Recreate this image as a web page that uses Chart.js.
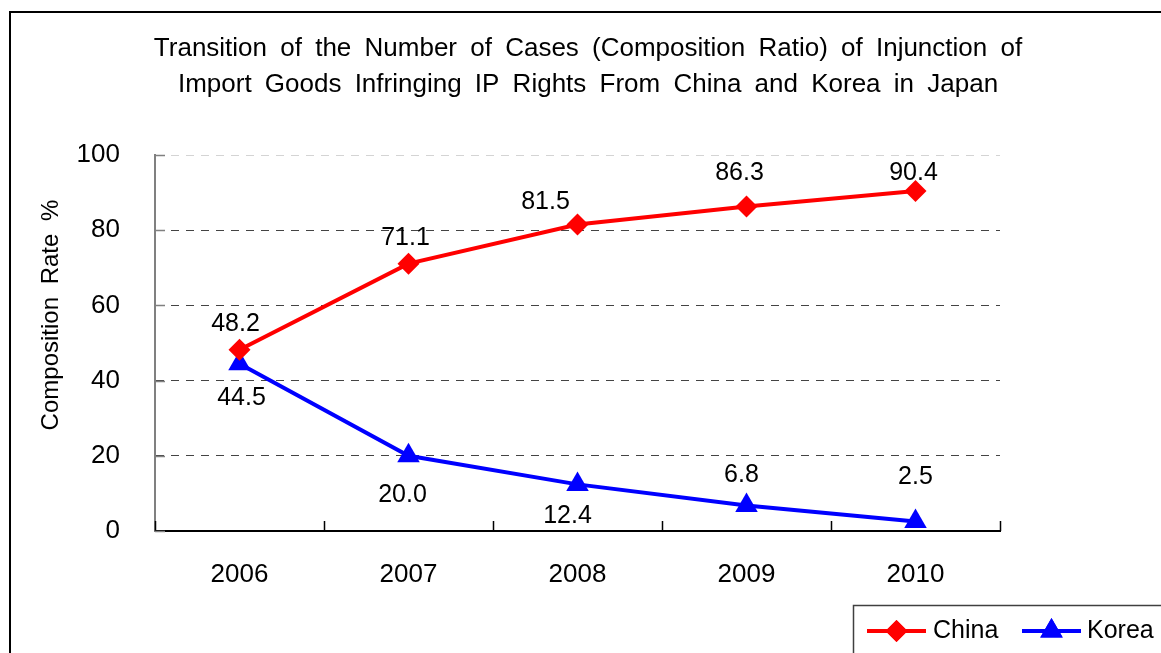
<!DOCTYPE html>
<html lang="en">

<head>
    <meta charset="utf-8">
    <title>Injunction of Import Goods - China and Korea</title>
    <script src="https://cdn.jsdelivr.net/npm/chart.js"></script>
    <style>
        body { margin: 0; overflow: hidden; background: #fff; }
        #frame {
            position: absolute; left: 9px; top: 11px;
            width: 1300px; height: 800px;
            border: 2px solid #000; pointer-events: none;
        }
    </style>
</head>

<body>
    <canvas id="myLineChart" width="1161" height="653"></canvas>
    <div id="frame"></div>

    <script>
        // data
        const years = ["2006", "2007", "2008", "2009", "2010"];
        const chinaValues = [48.2, 71.1, 81.5, 86.3, 90.4];
        const koreaValues = [44.5, 20.0, 12.4, 6.8, 2.5];
        const yTicks = [0, 20, 40, 60, 80, 100];

        // where each value label sits relative to its point (px)
        const chinaLabelOffsets = [[-4, -26], [-3, -26], [-32, -22], [-7, -33], [-2, -18]];
        const koreaLabelOffsets = [[2, 34], [-6, 39], [-10, 32], [-5, -30], [0, -44]];

        const FONT = "'Liberation Sans', Arial, sans-serif";

        // the original font has wide spaces
        const wideSpaces = {
            id: 'wideSpaces',
            beforeDraw(chart) {
                if ('wordSpacing' in chart.ctx) chart.ctx.wordSpacing = "6px";
            }
        };

        // value labels next to the points
        const valueLabels = {
            id: 'valueLabels',
            afterDatasetsDraw(chart) {
                const ctx = chart.ctx;
                ctx.save();
                ctx.font = "25px " + FONT;
                ctx.fillStyle = "#000";
                ctx.textAlign = "center";
                ctx.textBaseline = "middle";
                chart.data.datasets.forEach((ds, i) => {
                    const meta = chart.getDatasetMeta(i);
                    meta.data.forEach((pt, j) => {
                        const off = ds.labelOffsets[j];
                        ctx.fillText(ds.data[j].toFixed(1), pt.x + off[0], pt.y + off[1]);
                    });
                });
                ctx.restore();
            }
        };

        // inward tick marks, y axis title, boxed legend
        const extras = {
            id: 'extras',
            afterDraw(chart) {
                const ctx = chart.ctx;
                const area = chart.chartArea;
                const x = chart.scales.x;
                const y = chart.scales.y;
                ctx.save();

                // x ticks between categories
                ctx.strokeStyle = "#000";
                ctx.lineWidth = 1.5;
                ctx.beginPath();
                for (let i = 0; i <= years.length; i++) {
                    const px = Math.round(x.getPixelForValue(i - 0.5)) + 0.5;
                    ctx.moveTo(px, area.bottom);
                    ctx.lineTo(px, area.bottom - 10);
                }
                ctx.stroke();

                // y ticks
                ctx.strokeStyle = "#808080";
                ctx.beginPath();
                yTicks.forEach(v => {
                    const py = Math.round(y.getPixelForValue(v)) + 0.5;
                    ctx.moveTo(area.left, py);
                    ctx.lineTo(area.left + 10, py);
                });
                ctx.stroke();

                // y axis title
                ctx.save();
                ctx.translate(51, 315);
                ctx.rotate(-Math.PI / 2);
                ctx.font = "24px " + FONT;
                ctx.fillStyle = "#000";
                ctx.textAlign = "center";
                ctx.textBaseline = "middle";
                ctx.fillText("Composition Rate %", 0, 0);
                ctx.restore();

                // legend box
                ctx.strokeStyle = "#404040";
                ctx.lineWidth = 1.5;
                ctx.strokeRect(853.5, 605.5, 400, 100);
                const items = [[867, 926, 933], [1022, 1081, 1087]];
                chart.data.datasets.forEach((ds, i) => {
                    const [x0, x1, tx] = items[i];
                    const ly = 631;
                    ctx.strokeStyle = ds.borderColor;
                    ctx.lineWidth = ds.borderWidth;
                    ctx.beginPath();
                    ctx.moveTo(x0, ly);
                    ctx.lineTo(x1, ly);
                    ctx.stroke();
                    ctx.fillStyle = ds.pointBackgroundColor;
                    Chart.helpers.drawPoint(ctx, {
                        pointStyle: ds.pointStyle,
                        radius: ds.pointRadius,
                        rotation: 0,
                        borderWidth: 0
                    }, (x0 + x1) / 2, ly);
                    ctx.fill();
                    ctx.fillStyle = "#000";
                    ctx.font = "25px " + FONT;
                    ctx.textAlign = "left";
                    ctx.textBaseline = "middle";
                    ctx.fillText(ds.label, tx, ly);
                });

                ctx.restore();
            }
        };

        const ctx = document.getElementById("myLineChart").getContext("2d");
        let myLineChart = new Chart(ctx, {
            type: 'line',
            data: {
                labels: years,
                datasets: [{
                    label: "China",
                    data: chinaValues,
                    labelOffsets: chinaLabelOffsets,
                    borderColor: "#ff0000",
                    backgroundColor: "#ff0000",
                    pointBackgroundColor: "#ff0000",
                    pointBorderColor: "#ff0000",
                    borderWidth: 4,
                    pointStyle: 'rectRot',
                    pointRadius: 11,
                    pointBorderWidth: 0,
                    tension: 0
                }, {
                    label: "Korea",
                    data: koreaValues,
                    labelOffsets: koreaLabelOffsets,
                    borderColor: "#0000ff",
                    backgroundColor: "#0000ff",
                    pointBackgroundColor: "#0000ff",
                    pointBorderColor: "#0000ff",
                    borderWidth: 4,
                    pointStyle: 'triangle',
                    pointRadius: 13,
                    pointBorderWidth: 0,
                    tension: 0
                }]
            },
            options: {
                responsive: false,
                animation: false,
                events: [],
                layout: {
                    padding: { left: 15, right: 0, top: 0, bottom: 0 }
                },
                scales: {
                    x: {
                        offset: true,
                        grid: { display: false },
                        border: { color: "#000", width: 2 },
                        ticks: {
                            color: "#000",
                            padding: 20,
                            font: { family: FONT, size: 26 }
                        },
                        afterFit(scale) { scale.height = 122; }
                    },
                    y: {
                        min: 0,
                        max: 100,
                        afterBuildTicks(scale) {
                            scale.ticks = yTicks.map(v => ({ value: v }));
                        },
                        grid: {
                            drawTicks: false,
                            lineWidth: 1,
                            color: c => c.tick.value === 0 ? "rgba(0,0,0,0)" :
                                (c.tick.value === 100 ? "#d4d4d4" : "#444")
                        },
                        border: { color: "#808080", width: 2, dash: [8, 7] },
                        ticks: {
                            color: "#000",
                            padding: 35,
                            font: { family: FONT, size: 26 }
                        },
                        afterFit(scale) { scale.width = 140; }
                    },
                    // empty space on the right, keeps the title centred like the original
                    spacer: {
                        type: 'linear',
                        position: 'right',
                        grid: { display: false },
                        border: { display: false },
                        ticks: { display: false },
                        afterFit(scale) { scale.width = 161; }
                    }
                },
                plugins: {
                    legend: { display: false },
                    tooltip: { enabled: false },
                    title: {
                        display: true,
                        text: [
                            "Transition of the Number of Cases (Composition Ratio) of Injunction of",
                            "Import Goods Infringing IP Rights From China and Korea in Japan"
                        ],
                        color: "#000",
                        font: { family: FONT, size: 26, weight: 'normal', lineHeight: '36px' },
                        padding: { top: 31, bottom: 52 }
                    }
                }
            },
            plugins: [wideSpaces, valueLabels, extras]
        });
    </script>
</body>

</html>
